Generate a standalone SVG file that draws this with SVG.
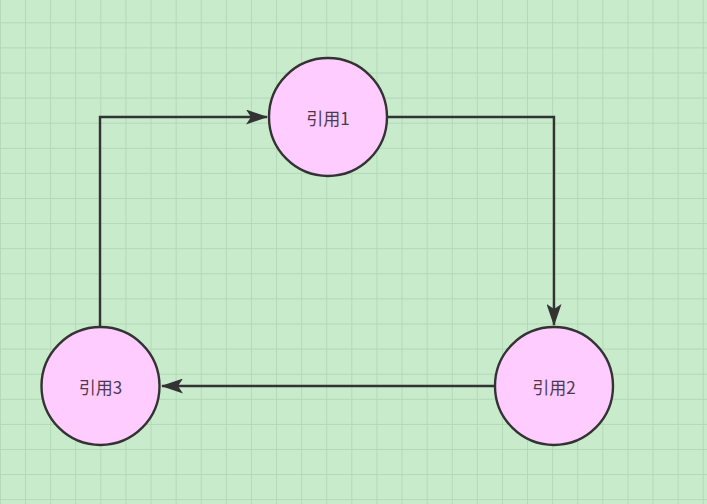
<svg xmlns="http://www.w3.org/2000/svg" width="707" height="504" viewBox="0 0 707 504">
<style>
.grid{stroke:#b2d8b5;stroke-width:1.8;fill:none}
.node circle{fill:#ffccff;stroke:#333333;stroke-width:2.4}
.node text{font-family:"Noto Sans CJK SC","Liberation Sans",sans-serif;font-size:17px;fill:#4a3a4a;text-anchor:middle;dominant-baseline:central}
.edge{fill:none;stroke:#333333;stroke-width:2.4;stroke-linejoin:miter}
</style>
<defs>
<pattern id="g" x="0.9" y="22.3" width="25.1" height="25.1" patternUnits="userSpaceOnUse">
<path d="M25.1 0V25.1M0 0H25.1" class="grid"/>
</pattern>
<marker id="arr" viewBox="0 0 22 15" refX="21" refY="7.5" markerWidth="22" markerHeight="15" markerUnits="userSpaceOnUse" orient="auto">
<path d="M0 0L22 7.5L0 15L5 7.5Z" fill="#333333"/>
</marker>
</defs>
<rect width="707" height="504" fill="#c8ebcb"/>
<rect width="707" height="504" fill="url(#g)"/>
<g id="connectors">
<path class="edge" d="M387 117H554V325" marker-end="url(#arr)"/>
<path class="edge" d="M495 386H162" marker-end="url(#arr)"/>
<path class="edge" d="M100 327V117H267" marker-end="url(#arr)"/>
</g>
<g id="node1" class="node"><circle cx="328" cy="117" r="59"/><text x="328" y="117">引用1</text></g>
<g id="node2" class="node"><circle cx="554" cy="386" r="59"/><text x="554" y="386">引用2</text></g>
<g id="node3" class="node"><circle cx="100.5" cy="386" r="59"/><text x="100.5" y="386">引用3</text></g>
</svg>
